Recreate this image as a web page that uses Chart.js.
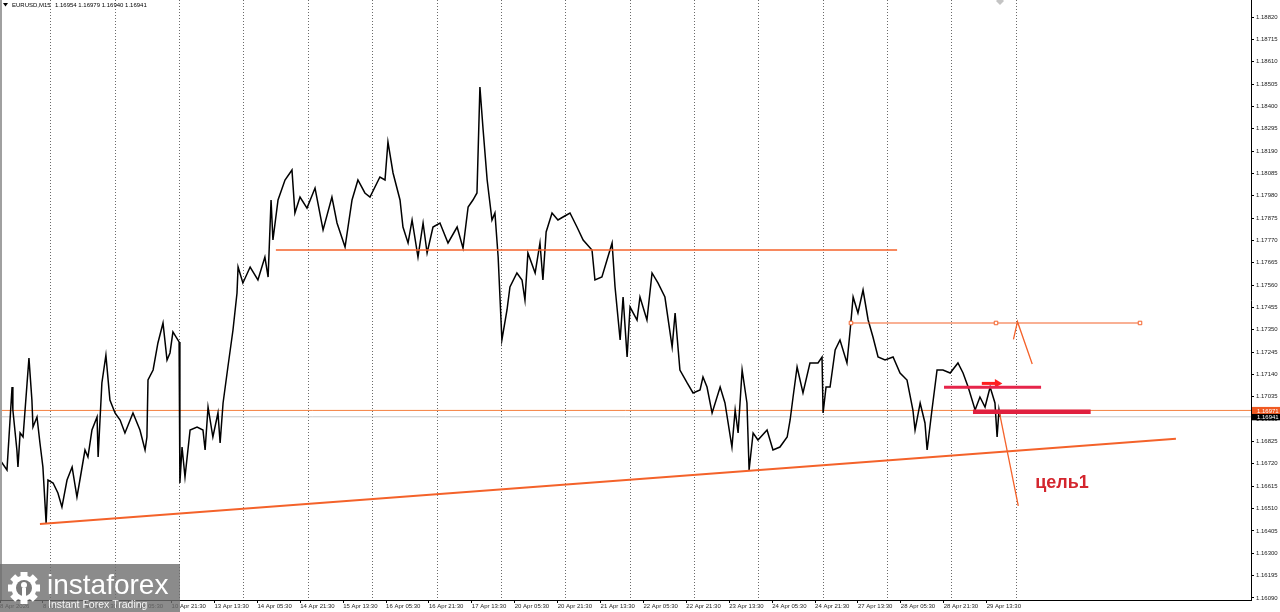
<!DOCTYPE html>
<html><head><meta charset="utf-8">
<script src="https://cdn.jsdelivr.net/npm/chart.js@4.4.1/dist/chart.umd.min.js"></script>
<style>html,body{margin:0;padding:0;background:#fff;overflow:hidden}canvas{display:block}</style>
</head><body>
<canvas id="c" width="1280" height="612"></canvas>
<script>
// ---------- data ----------
const symbolTitle = 'EURUSD,M15';
const ohlcText = ['1.16954', '1.16979', '1.16940', '1.16941'];

const xTickHours = [0,16,32,48,64,80,96,112,128,144,160,176,192,208,224,240,256,272,288,304,320,336,352,368];
const xTickLabels = ['8 Apr 2026','8 Apr 21:30','9 Apr 13:30','10 Apr 05:30','10 Apr 21:30','13 Apr 13:30','14 Apr 05:30','14 Apr 21:30','15 Apr 13:30','16 Apr 05:30','16 Apr 21:30','17 Apr 13:30','20 Apr 05:30','20 Apr 21:30','21 Apr 13:30','22 Apr 05:30','22 Apr 21:30','23 Apr 13:30','24 Apr 05:30','24 Apr 21:30','27 Apr 13:30','28 Apr 05:30','28 Apr 21:30','29 Apr 13:30'];
const separatorHours = [19,43,67,91,115,139,163,187,211,235,259,283,307,331,355,379];
const yTicks = [1.16090,1.16195,1.16300,1.16405,1.16510,1.16615,1.16720,1.16825,1.16930,1.17035,1.17140,1.17245,1.17350,1.17455,1.17560,1.17665,1.17770,1.17875,1.17980,1.18085,1.18190,1.18295,1.18400,1.18505,1.18610,1.18715,1.18820];

const priceHours = [0,2.6,4.5,4.8,6.3,6.7,7.5,8.6,10.1,10.8,11.9,12.3,13.8,14.9,16.0,17.2,17.9,19.8,21.6,23.1,25.0,26.9,28.7,29.8,31.7,32.8,34.3,36.2,36.6,38.0,39.5,41.0,42.9,44.8,46.6,49.6,52.2,54.1,54.8,55.2,57.1,58.9,60.8,62.3,63.4,64.5,66.8,67.1,67.9,69.0,70.9,73.5,75.7,76.5,77.6,79.4,81.3,82.1,83.2,85.0,86.9,88.4,88.8,90.6,93.3,96.2,98.8,100.0,101.1,101.8,103.7,106.3,108.9,110.0,111.9,114.5,117.5,120.5,123.8,125.7,128.7,131.3,133.5,136.1,138.0,141.7,143.6,144.7,146.6,149.2,150.3,152.2,153.7,155.9,157.8,159.3,161.5,164.1,167.1,170.5,172.7,174.6,176.4,177.9,179.0,180.2,181.7,183.5,184.6,185.8,187.2,189.1,190.2,192.8,194.7,195.8,196.9,199.6,201.4,202.5,203.7,205.9,208.1,210.0,212.6,215.2,217.5,220.8,221.9,224.5,226.4,228.3,229.4,231.3,232.4,233.9,235.0,237.6,238.7,241.3,243.2,245.4,248.0,250.7,251.8,253.6,256.3,258.5,261.1,262.2,263.7,265.6,268.6,270.4,273.0,274.2,275.3,276.8,278.6,279.4,280.9,282.7,286.1,288.3,290.9,293.6,294.7,295.8,297.3,299.5,302.1,305.1,306.6,307.0,308.1,309.6,311.5,313.3,315.9,317.1,318.2,320.0,321.9,323.8,325.6,327.5,330.1,333.1,335.7,338.3,340.5,341.3,343.2,345.0,345.8,347.6,349.5,351.7,354.4,357.3,359.2,361.1,363.7,365.5,367.4,369.3,371.1,371.9,372.6,373.0];
const priceCloses = [1.16738,1.16691,1.17081,1.16973,1.16785,1.16705,1.16865,1.16846,1.17100,1.17217,1.17020,1.16893,1.16940,1.16818,1.16705,1.16442,1.16644,1.16630,1.16583,1.16517,1.16644,1.16705,1.16564,1.16644,1.16785,1.16752,1.16879,1.16940,1.16752,1.17100,1.17231,1.17020,1.16959,1.16926,1.16865,1.16959,1.16879,1.16785,1.16846,1.17114,1.17161,1.17288,1.17382,1.17208,1.17241,1.17340,1.17293,1.16630,1.16799,1.16658,1.16879,1.16893,1.16879,1.16785,1.16987,1.16846,1.16959,1.16818,1.17006,1.17175,1.17349,1.17523,1.17645,1.17570,1.17645,1.17584,1.17692,1.17598,1.17960,1.17772,1.17960,1.18054,1.18101,1.17899,1.17974,1.17922,1.18016,1.17819,1.17974,1.17852,1.17739,1.17960,1.18054,1.17993,1.17974,1.18068,1.18054,1.18233,1.18087,1.17960,1.17833,1.17758,1.17866,1.17692,1.17852,1.17711,1.17833,1.17852,1.17758,1.17833,1.17734,1.17927,1.17960,1.17993,1.18491,1.18289,1.18054,1.17866,1.17899,1.17692,1.17302,1.17443,1.17551,1.17617,1.17584,1.17490,1.17711,1.17617,1.17758,1.17584,1.17810,1.17899,1.17866,1.17880,1.17899,1.17833,1.17772,1.17725,1.17584,1.17598,1.17678,1.17758,1.17551,1.17302,1.17504,1.17222,1.17457,1.17396,1.17504,1.17396,1.17617,1.17570,1.17504,1.17269,1.17429,1.17161,1.17100,1.17053,1.17067,1.17128,1.17081,1.16959,1.17081,1.17006,1.16799,1.16973,1.16865,1.17161,1.17006,1.16691,1.16865,1.16832,1.16879,1.16785,1.16799,1.16846,1.16926,1.17034,1.17175,1.17053,1.17194,1.17194,1.17222,1.16959,1.17081,1.17081,1.17255,1.17302,1.17194,1.17349,1.17504,1.17429,1.17537,1.17396,1.17316,1.17222,1.17208,1.17222,1.17147,1.17114,1.16973,1.16879,1.17006,1.16912,1.16785,1.16973,1.17161,1.17161,1.17147,1.17194,1.17147,1.17081,1.16973,1.17034,1.16987,1.17081,1.17006,1.16846,1.16973,1.16941];

// drawn objects
const resistHours = [102.9, 334.6];      const resistPrice = 1.17725;
const upperLevelHours = [317.4, 371.5, 425.2]; const upperLevelPrice = 1.17382;
const fullHours = [0, 466.6];
const markLevelPrice = 1.16971;
const bidPrice = 1.16941;
const trendHours = [14.9, 438.6];        const trendPrices = [1.16437, 1.16838];
const zigzagHours = [378.0, 379.5, 385.0]; const zigzagPrices = [1.17305, 1.17388, 1.17189];
const targetHours = [372.7, 379.8];      const targetPrices = [1.16965, 1.16522];
const redUpperHours = [352.1, 388.3];    const redUpperPrice = 1.17080;
const redLowerHours = [362.9, 406.8];    const redLowerPrice = 1.16965;
const arrowHours = [366.2, 372.0];       const arrowPrice = 1.17098;
const targetLabel = 'цель1';             const targetLabelAt = [386.1, 1.16630];

// ---------- chart ----------
const ORANGE = '#f4622a';
const pts = (xs, ys) => xs.map((x, i) => ({x, y: Array.isArray(ys) ? ys[i] : ys}));
const lineDs = (data, color, width, extra) => Object.assign({
  type: 'line', data, borderColor: color, borderWidth: width, pointRadius: 0, tension: 0, fill: false, order: 1
}, extra || {});
const noPad = s => { s.paddingLeft = 0; s.paddingRight = 0; s.paddingTop = 0; s.paddingBottom = 0; };

Chart.defaults.font.family = '"Liberation Sans", Arial, sans-serif';

const overlay = {
  id: 'overlay',
  afterDraw(chart) {
    const ctx = chart.ctx, xs = chart.scales.x, ys = chart.scales.y, ca = chart.chartArea;
    ctx.save();
    // left frame
    ctx.fillStyle = '#a0a0a0';
    ctx.fillRect(0, 0, 2, ca.bottom);
    // header
    ctx.fillStyle = '#000';
    ctx.beginPath(); ctx.moveTo(3, 3); ctx.lineTo(8, 3); ctx.lineTo(5.5, 6.5); ctx.closePath(); ctx.fill();
    ctx.font = '6px "Liberation Sans"'; ctx.textBaseline = 'middle'; ctx.textAlign = 'left';
    ctx.fillText(symbolTitle, 12, 5);
    ctx.fillText(ohlcText.join(' '), 55, 5);
    // small diamond at top
    ctx.fillStyle = '#c4c4c4';
    ctx.beginPath(); ctx.moveTo(1000, -3); ctx.lineTo(1004, 1); ctx.lineTo(1000, 5); ctx.lineTo(996, 1); ctx.closePath(); ctx.fill();
    // target label
    ctx.font = 'bold 18px "Liberation Sans"'; ctx.fillStyle = '#d4262e'; ctx.textBaseline = 'middle';
    ctx.fillText(targetLabel, xs.getPixelForValue(targetLabelAt[0]), ys.getPixelForValue(targetLabelAt[1]));
    // price boxes on axis
    const y1 = ys.getPixelForValue(markLevelPrice), y2 = ys.getPixelForValue(bidPrice);
    const ax = ca.right + 1;
    ctx.font = '6px "Liberation Sans"';
    ctx.fillStyle = '#000'; ctx.fillRect(ax, y2 - 3.5, chart.width - ax, 7);
    ctx.fillStyle = '#fff'; ctx.fillText(bidPrice.toFixed(5), ax + 5, y2 + 0.5);
    ctx.fillStyle = '#f05a22'; ctx.fillRect(ax, y1 - 3.5, chart.width - ax, 7);
    ctx.fillStyle = '#fff'; ctx.fillText(markLevelPrice.toFixed(5), ax + 5, y1 + 0.5);
    // logo
    ctx.fillStyle = 'rgba(110,110,110,0.8)';
    ctx.fillRect(0, 564, 180, chart.height - 564);
    const gx = 24, gy = 588;
    ctx.fillStyle = '#fff';
    for (let i = 0; i < 8; i++) {
      ctx.save(); ctx.translate(gx, gy); ctx.rotate(i * Math.PI / 4);
      ctx.fillRect(-3.5, -16, 7, 8); ctx.restore();
    }
    ctx.beginPath(); ctx.arc(gx, gy, 12.5, 0, Math.PI * 2); ctx.fill();
    ctx.fillStyle = '#7a7a7a';
    ctx.beginPath(); ctx.arc(gx, gy, 8, 0, Math.PI * 2); ctx.fill();
    ctx.fillStyle = '#fff';
    ctx.beginPath(); ctx.arc(gx, gy - 3, 3, 0, Math.PI * 2); ctx.fill();
    ctx.fillRect(gx - 2, gy, 4, 13);
    ctx.textBaseline = 'alphabetic';
    ctx.font = '28px "Liberation Sans"'; ctx.fillStyle = '#fff';
    ctx.fillText('instaforex', 47, 594);
    ctx.font = '10.5px "Liberation Sans"'; ctx.fillStyle = 'rgba(255,255,255,0.92)';
    ctx.fillText('Instant Forex Trading', 48, 608);
    ctx.restore();
  }
};

new Chart(document.getElementById('c'), {
  type: 'line',
  data: {
    datasets: [
      lineDs(pts(redLowerHours, redLowerPrice), '#e0203f', 4.5),
      lineDs(pts(redUpperHours, redUpperPrice), '#e6244a', 3),
      lineDs(pts(arrowHours, arrowPrice), '#ff1e1e', 3, {
        pointRadius: [0, 5], pointStyle: 'triangle', pointRotation: 90,
        pointBackgroundColor: '#ff1e1e', pointBorderColor: '#ff1e1e', pointBorderWidth: 0
      }),
      lineDs(pts(targetHours, targetPrices), ORANGE, 1.3),
      lineDs(pts(zigzagHours, zigzagPrices), ORANGE, 1.3),
      lineDs(pts(trendHours, trendPrices), ORANGE, 2),
      lineDs(pts(resistHours, resistPrice), ORANGE, 1.6),
      lineDs(pts(upperLevelHours, upperLevelPrice), ORANGE, 1.2, {
        pointRadius: 2.5, pointStyle: 'rect', pointBackgroundColor: '#fff',
        pointBorderColor: ORANGE, pointBorderWidth: 1
      }),
      lineDs(pts(fullHours, markLevelPrice), '#f5803f', 1, {order: 3}),
      lineDs(pts(fullHours, bidPrice), '#c8c8c8', 1, {order: 4}),
      lineDs(pts(priceHours, priceCloses), '#000', 1.5, {order: 2})
    ]
  },
  options: {
    responsive: false,
    animation: false,
    events: [],
    devicePixelRatio: 1,
    layout: {padding: 0, autoPadding: false},
    plugins: {legend: {display: false}, tooltip: {enabled: false}, title: {display: false}},
    scales: {
      x: {
        type: 'linear', position: 'bottom', min: 0, max: 466.6,
        afterBuildTicks: a => { a.ticks = xTickHours.map(v => ({value: v})); },
        afterFit: s => { s.height = 12; noPad(s); },
        ticks: {
          autoSkip: false, maxRotation: 0, minRotation: 0, align: 'start', padding: 0,
          color: '#222', font: {size: 6},
          callback: v => xTickLabels[xTickHours.indexOf(v)]
        },
        grid: {drawOnChartArea: false, drawTicks: true, tickLength: 3, color: '#000'},
        border: {display: true, color: '#000', width: 1}
      },
      xs: {
        type: 'linear', position: 'bottom', min: 0, max: 466.6, display: true,
        afterBuildTicks: a => { a.ticks = separatorHours.map(v => ({value: v})); },
        afterFit: s => { s.height = 0; noPad(s); },
        ticks: {display: false},
        grid: {drawOnChartArea: true, drawTicks: false, color: '#6a6a6a', lineWidth: 1},
        border: {display: false, dash: [1, 2]}
      },
      y: {
        type: 'linear', position: 'right', min: 1.16080, max: 1.18900,
        afterBuildTicks: a => { a.ticks = yTicks.map(v => ({value: v})); },
        afterFit: s => { s.width = 29; noPad(s); },
        ticks: {color: '#222', font: {size: 6}, padding: 2, callback: v => Number(v).toFixed(5)},
        grid: {drawOnChartArea: false, drawTicks: true, tickLength: 3, color: '#000'},
        border: {display: true, color: '#000', width: 1}
      }
    }
  },
  plugins: [overlay]
});
</script>
</body></html>
